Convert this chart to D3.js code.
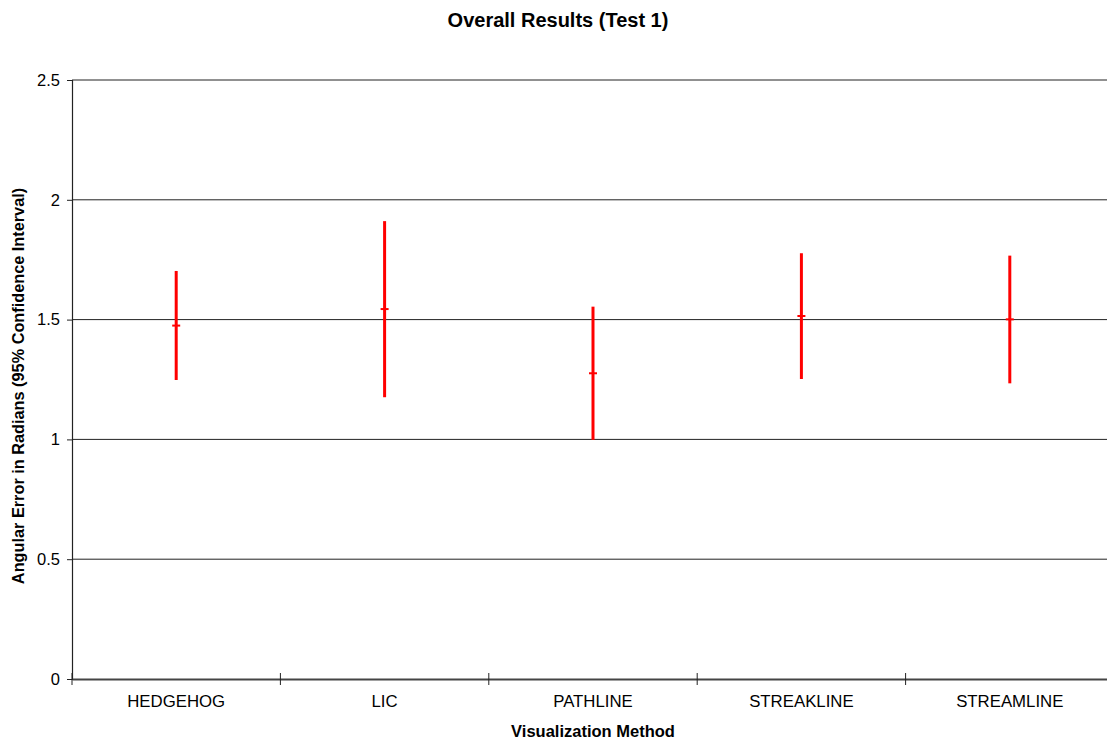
<!DOCTYPE html>
<html><head><meta charset="utf-8">
<script src="https://cdn.jsdelivr.net/npm/d3@7"></script>
<style>body{margin:0;background:#fff;} svg{display:block;font-family:Arial,"Liberation Sans",sans-serif;}</style>
</head><body>
<svg id="c" width="1107" height="743"></svg>
<script>
const categories = ["HEDGEHOG","LIC","PATHLINE","STREAKLINE","STREAMLINE"];
const upper = [1.703, 1.911, 1.554, 1.777, 1.767];
const lower = [1.248, 1.176, 0.998, 1.252, 1.234];
const mean  = [1.475, 1.544, 1.276, 1.515, 1.501];
const yTicks = [0, 0.5, 1, 1.5, 2, 2.5];
const yTickLabels = ["0","0.5","1","1.5","2","2.5"];

const svg = d3.select("#c");
const x = d3.scaleBand().domain(categories).range([72, 1114]);
const y = d3.scaleLinear().domain([0, 2.5]).range([679, 80]);

// gridlines
svg.append("g").selectAll("line").data(yTicks.filter(d=>d>0)).join("line")
  .attr("x1", 72).attr("x2", 1107)
  .attr("y1", d=>y(d)).attr("y2", d=>y(d))
  .attr("stroke", "#222").attr("stroke-width", 1);

// y axis
const yAxis = svg.append("g").attr("transform","translate(72,0)")
  .call(d3.axisLeft(y).tickValues(yTicks).tickFormat((d,i)=>yTickLabels[i]).tickSize(5).tickPadding(7));
yAxis.select(".domain").attr("stroke","#222").attr("stroke-width",1.2);
yAxis.selectAll(".tick line").attr("stroke","#222");
yAxis.selectAll("text").attr("font-size",16.5).attr("fill","#000").attr("font-family","Arial, 'Liberation Sans', sans-serif");

// x axis
const xAxis = svg.append("g").attr("transform","translate(0,679)")
  .call(d3.axisBottom(x).tickSize(0).tickPadding(16));
xAxis.select(".domain").attr("stroke","#444").attr("stroke-width",2);
xAxis.selectAll("text").attr("font-size",16.8).attr("fill","#000").attr("font-family","Arial, 'Liberation Sans', sans-serif");
// category boundary ticks
const bounds = categories.map(c=>x(c)).concat([x.range()[1]]);
svg.append("g").selectAll("line").data(bounds).join("line")
  .attr("x1", d=>d).attr("x2", d=>d).attr("y1", 673).attr("y2", 685)
  .attr("stroke","#222").attr("stroke-width",1);

// error bars
const data = categories.map((c,i)=>({c, lo: lower[i], hi: upper[i], m: mean[i]}));
const cx = d => x(d.c) + x.bandwidth()/2;
svg.append("g").selectAll("line").data(data).join("line")
  .attr("x1", cx).attr("x2", cx).attr("y1", d=>y(d.hi)).attr("y2", d=>y(d.lo))
  .attr("stroke","#ff0000").attr("stroke-width",3);
svg.append("g").selectAll("line").data(data).join("line")
  .attr("x1", d=>cx(d)-4).attr("x2", d=>cx(d)+4).attr("y1", d=>y(d.m)).attr("y2", d=>y(d.m))
  .attr("stroke","#ff0000").attr("stroke-width",2);

// titles
svg.append("text").attr("x", 558).attr("y", 27).attr("text-anchor","middle")
  .attr("font-size",20).attr("font-weight","bold").text("Overall Results (Test 1)");
svg.append("text").attr("x", 593).attr("y", 737).attr("text-anchor","middle")
  .attr("font-size",16.5).attr("font-weight","bold").text("Visualization Method");
svg.append("text").attr("transform","translate(24,386) rotate(-90)").attr("text-anchor","middle")
  .attr("font-size",16.3).attr("font-weight","bold").text("Angular Error in Radians (95% Confidence Interval)");
</script>
</body></html>
